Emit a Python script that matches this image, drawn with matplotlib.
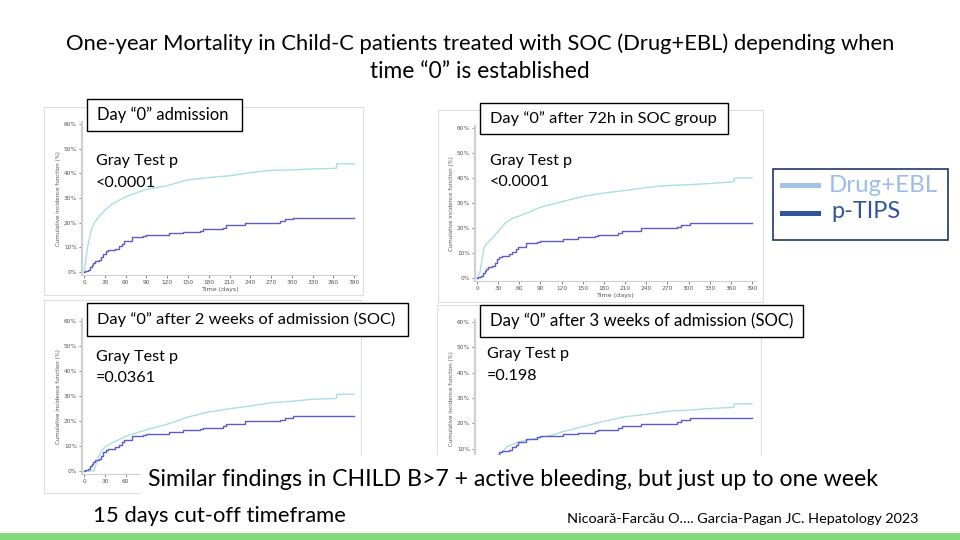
import matplotlib
matplotlib.use('Agg')
import matplotlib.pyplot as plt
from matplotlib.patches import Rectangle
from matplotlib.lines import Line2D

W, H = 960, 540
FONT = ['Lato', 'DejaVu Sans']

# ---------------- data ----------------
day_ticks = [0, 30, 60, 90, 120, 150, 180, 210, 240, 270, 300, 330, 360, 390]
pct_ticks = [0, 10, 20, 30, 40, 50, 60]

# p-TIPS cumulative incidence (same group in all four panels), step function
ptips_days = [0, 2, 5, 8, 11, 13, 16, 21, 25, 28, 31, 35, 45, 50, 55, 58, 69, 85, 90,
              122, 143, 167, 172, 200, 205, 232, 283, 290, 302, 390]
ptips_pct = [0, 0.5, 1, 2, 3, 3.5, 4.5, 5, 6, 7.5, 8.5, 9, 9.5, 10.5, 11.5, 12.5, 14, 14.5, 15,
             15.8, 16.3, 16.8, 17.4, 18, 19, 19.9, 20.5, 21.4, 22, 22]

# Drug+EBL curves, one per definition of day "0"
soc_adm_days = [0, 3, 5, 8, 11, 15, 20, 25, 30, 40, 50, 60, 75, 90, 120, 150, 180, 210,
                240, 270, 300, 330, 364, 365, 390]
soc_adm_pct = [0, 6, 10, 14, 17.5, 20, 22, 23.5, 25, 27.5, 29, 30.5, 32, 33.5, 35, 37.4, 38.3,
               39, 40.3, 41.2, 41.4, 41.8, 42, 43.9, 43.9]

soc_72h_days = [0, 4, 7, 10, 13, 19, 25, 30, 40, 50, 60, 75, 90, 120, 150, 180, 210, 240,
                270, 300, 330, 364, 365, 390]
soc_72h_pct = [0, 2, 7, 12, 13.5, 15.2, 17, 18.6, 21.9, 23.9, 24.8, 26.5, 28.3, 30.5, 32.6, 34,
               35, 36.2, 37, 37.3, 37.8, 38.5, 40, 40]

soc_2w_days = [0, 14, 17, 20, 25, 30, 40, 50, 60, 75, 90, 120, 150, 180, 210, 240, 270, 300,
               330, 364, 365, 390]
soc_2w_pct = [0, 0, 2.5, 5, 8, 9.6, 11.2, 12.5, 13.9, 15.2, 16.5, 18.7, 21.6, 23.6, 24.9, 26,
              27.3, 27.9, 28.7, 29, 30.7, 30.7]

soc_3w_days = [0, 21, 24, 27, 31, 42, 59, 83, 111, 120, 149, 177, 210, 239, 272, 300, 333,
               364, 365, 390]
soc_3w_pct = [0, 0, 2, 4, 7, 10.7, 12.7, 14, 15.6, 16.6, 18.6, 20.6, 22.6, 23.5, 24.8, 25.2,
              25.9, 26.3, 27.7, 27.7]

panel_titles = ['Day \u201c0\u201d admission',
                'Day \u201c0\u201d after 72h in SOC group',
                'Day \u201c0\u201d after 2 weeks of admission (SOC)',
                'Day \u201c0\u201d after 3 weeks of admission (SOC)']
p_values = ['<0.0001', '<0.0001', '=0.0361', '=0.198']
legend_labels = ['Drug+EBL', 'p-TIPS']

# ---------------- figure helpers ----------------
fig = plt.figure(figsize=(9.6, 5.4), dpi=100)
fig.patch.set_facecolor('white')
renderer = fig.canvas.get_renderer()


def fx(x):
    return x / W


def fy(y):
    return 1 - y / H


def rect(x0, y0, x1, y1, **kw):
    r = Rectangle((fx(x0), fy(y1)), (x1 - x0) / W, (y1 - y0) / H,
                  transform=fig.transFigure, **kw)
    fig.add_artist(r)
    return r


def put(text, x, y, width=None, size=12, ha='left', va='center', family=FONT, **kw):
    t = fig.text(fx(x), fy(y), text, fontsize=size, ha=ha, va=va, family=family, **kw)
    if width is not None:
        bb = t.get_window_extent(renderer)
        t.set_fontsize(size * width / bb.width)
    return t


SOC_COLOR = '#a8dfe6'
TIPS_COLOR = '#5d5bc6'


def make_panel(box, xlim, ylim, soc_d, soc_p, shown_xlabels=None, shown_ylabels=None,
               show_xlabel=True):
    x0, y0, x1, y1 = box
    ax = fig.add_axes([fx(x0), fy(y1), (x1 - x0) / W, (y1 - y0) / H])
    ax.set_facecolor('none')
    ax.plot(soc_d, soc_p, color=SOC_COLOR, lw=1.0)
    ax.step(ptips_days, ptips_pct, where='post', color=TIPS_COLOR, lw=1.0)
    ax.set_xlim(*xlim)
    ax.set_ylim(*ylim)
    ax.set_xticks(day_ticks)
    if shown_xlabels is None:
        shown_xlabels = day_ticks
    if shown_ylabels is None:
        shown_ylabels = pct_ticks
    ax.set_xticklabels([str(d) if d in shown_xlabels else '' for d in day_ticks])
    ax.set_yticks(pct_ticks)
    ax.set_yticklabels([f'{p}%' if p in shown_ylabels else '' for p in pct_ticks])
    for s in ('top', 'right'):
        ax.spines[s].set_visible(False)
    ax.spines['left'].set_color('#cfcfcf')
    ax.spines['left'].set_linewidth(1.6)
    ax.spines['bottom'].set_color('#cfcfcf')
    ax.spines['bottom'].set_linewidth(0.8)
    ax.tick_params(labelsize=4.2, colors='#555555', length=2, width=0.5, pad=1.5)
    if show_xlabel:
        ax.set_xlabel('Time (days)', fontsize=4.6, color='#555555', labelpad=1.5,
                      family='DejaVu Sans')
    ax.set_ylabel('Cumulative incidence function (%)', fontsize=4.0, color='#555555',
                  labelpad=2, family='DejaVu Sans')
    return ax


# faint borders of the pasted chart images
border_kw = dict(facecolor='none', edgecolor='#dedede', lw=0.8, zorder=1)
rect(44, 107, 363, 295, **border_kw)
rect(438, 110, 763, 302, **border_kw)
rect(44, 300, 361, 493, **border_kw)
rect(437, 305, 761, 500, **border_kw)

make_panel((82, 122, 357, 275), (-3, 394), (-1.2, 60.8), soc_adm_days, soc_adm_pct)
make_panel((475, 126, 755, 281), (-2.84, 394.3), (-1.2, 60.8), soc_72h_days, soc_72h_pct)
# lower panels: their bottom parts are hidden behind the white text box
make_panel((82, 319, 357, 474), (-3, 394), (-1.2, 60.8), soc_2w_days, soc_2w_pct,
           shown_xlabels=[0, 30, 60], show_xlabel=False)
make_panel((475, 320, 755, 477), (-2.84, 394.3), (-1.2, 60.8), soc_3w_days, soc_3w_pct,
           shown_xlabels=[], shown_ylabels=[10, 20, 30, 40, 50, 60], show_xlabel=False)

# panel title boxes
boxes = [(87, 99, 242, 131), (480, 103, 728, 134), (87, 303, 408, 336), (480, 305, 803, 337)]
title_x = [97, 490, 97, 490]
title_w = [131, 225, 296, 302]
for (bx0, by0, bx1, by1), tx, tw, label in zip(boxes, title_x, title_w, panel_titles):
    rect(bx0, by0, bx1, by1, facecolor='white', edgecolor='black', lw=1.0, zorder=3)
    put(label, tx, (by0 + by1) / 2, width=tw, color='black', zorder=4)

# Gray test annotations
gray_pos = [(96, 161, 183), (490, 161, 182), (96, 357, 378), (487, 354, 376)]
for (gx, gy1, gy2), pv in zip(gray_pos, p_values):
    g = put('Gray Test p', gx, gy1, width=82, color='black', zorder=4)
    put(pv, gx, gy2, size=g.get_fontsize(), color='black', zorder=4)

# main title
put('One-year Mortality in Child-C patients treated with SOC (Drug+EBL) depending when',
    480, 44, width=824, ha='center', color='black')
put('time \u201c0\u201d is established', 480, 71, width=219, ha='center', color='black')

# legend
rect(773, 169, 948, 240, facecolor='white', edgecolor='#1f3864', lw=1.2, zorder=3)
fig.add_artist(Line2D([fx(782), fx(818)], [fy(185), fy(185)], transform=fig.transFigure,
                      color='#a4c2e8', lw=3.6, zorder=4))
fig.add_artist(Line2D([fx(782), fx(818)], [fy(213), fy(213)], transform=fig.transFigure,
                      color='#2f5597', lw=3.6, zorder=4))
put(legend_labels[0], 829, 186, width=108, color='#9dbde8', zorder=4)
put(legend_labels[1], 831, 212, width=69, color='#2f5597', zorder=4)

# white text box covering lower part of bottom panels
rect(140, 455, 895, 502, facecolor='white', edgecolor='none', zorder=2)
put('Similar findings in CHILD B>7 + active bleeding, but just up to one week',
    148, 480, width=730, color='black', zorder=4)

put('15 days cut-off timeframe', 93, 516, width=252, color='black')
put('Nicoar\u0103-Farc\u0103u O\u2026. Garcia-Pagan JC. Hepatology 2023', 567, 519,
    width=351, color='black')

# green bottom bar
rect(0, 533, 960, 541, facecolor='#84da7a', edgecolor='none', zorder=2)

fig.savefig('out.png', dpi=100, facecolor='white')
